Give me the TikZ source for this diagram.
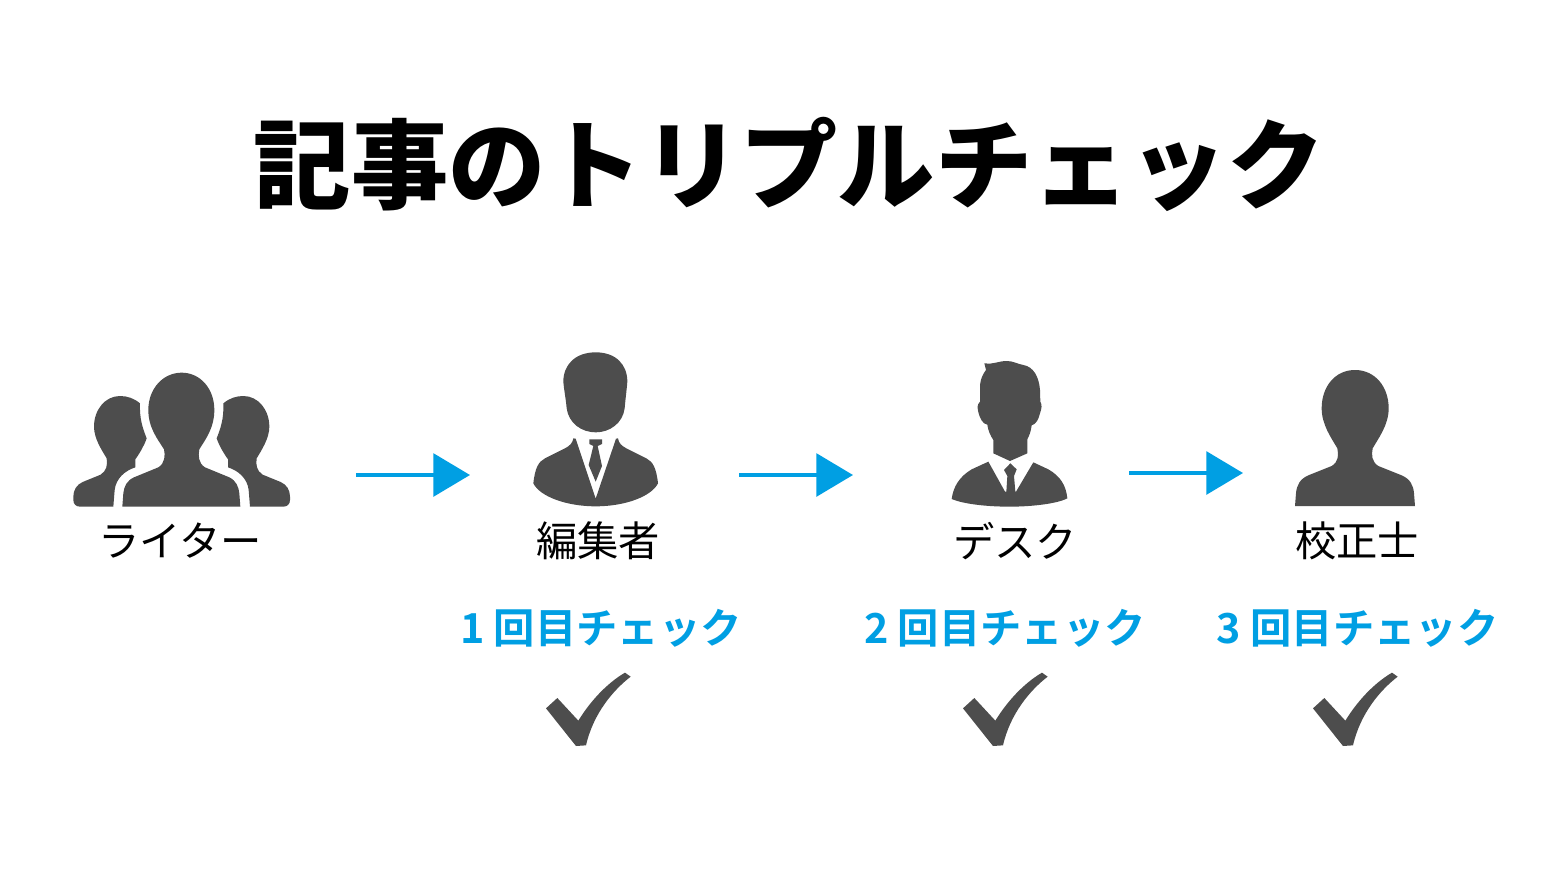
\documentclass[tikz,border=0pt]{standalone}
\usepackage{fontspec}
\usetikzlibrary{arrows.meta}
\newfontfamily\cjk{Noto Sans CJK JP}
\newfontfamily\cjkbold{Noto Sans CJK JP Bold}
\newfontfamily\cjkblack{Noto Sans CJK JP Black}
\definecolor{icongray}{HTML}{4D4D4D}
\definecolor{flowblue}{HTML}{009FE3}
\tikzset{
  zoomed/.style 2 args={shift={(#1,#2)},x=0.25pt,y=-0.25pt},
  icon/.style={fill=icongray,draw=none},
  flow/.style={draw=flowblue,line width=3pt,-{Triangle[length=27.5pt,width=32pt,fill=flowblue]}},
  titletext/.style={font=\cjkblack\fontsize{73pt}{80pt}\selectfont,text=black,inner sep=0pt},
  roletext/.style={font=\cjk\fontsize{31pt}{34pt}\selectfont,text=black,inner sep=0pt},
  checktext/.style={font=\cjkbold\fontsize{31pt}{34pt}\selectfont,text=flowblue,inner sep=0pt},
}
\begin{document}
\begin{tikzpicture}[x=0.75pt,y=-0.75pt]
\useasboundingbox (0,0) rectangle (1563,892);
\fill[white] (0,0) rectangle (1563,892);

\node[titletext] (title) at (789,164.5) {記事のトリプルチェック};

% writer
\begin{scope}[zoomed={60}{350}]
  \fill[icon] (365,68) .. controls (310,68) and (265,115) .. (265,180) .. controls (265,235) and (295,270) .. (312,298) .. controls (316,315) and (315,340) .. (295,352) -- (222,382) .. controls (200,392) and (192,410) .. (190,430) -- (187,470) -- (541,470) -- (538,430) .. controls (536,410) and (528,392) .. (508,382) -- (435,352) .. controls (415,340) and (414,315) .. (418,298) .. controls (435,270) and (463,235) .. (463,180) .. controls (463,115) and (420,68) .. (365,68) -- cycle;
  \foreach \mirror/\off in {1/0,-1/730}{
    \begin{scope}[shift={(\off,0)},xscale=\mirror]
      \fill[icon] (240,160) .. controls (222,145) and (202,138) .. (180,138) .. controls (135,138) and (102,180) .. (102,230) .. controls (102,265) and (125,300) .. (140,325) .. controls (143,345) and (140,362) .. (122,374) -- (68,396) .. controls (50,404) and (40,420) .. (40,440) -- (40,450) .. controls (40,462) and (48,470) .. (60,470) -- (160,470) -- (164,420) .. controls (168,385) and (195,362) .. (226,352) -- (226,328) .. controls (240,308) and (252,288) .. (260,265) .. controls (248,235) and (238,205) .. (240,160) -- cycle;
    \end{scope}
  }
\end{scope}

% editor
\begin{scope}[zoomed={510}{340}]
  \fill[icon] (257,37) .. controls (195,37) and (160,75) .. (160,125) .. controls (162,150) and (168,180) .. (170,205) .. controls (176,250) and (215,277) .. (257,277) .. controls (299,277) and (338,250) .. (344,205) .. controls (346,180) and (350,150) .. (352,125) .. controls (352,75) and (319,37) .. (257,37) -- cycle;
  \fill[icon] (190,295) .. controls (188,310) and (178,318) .. (165,325) -- (105,355) .. controls (85,365) and (75,385) .. (70,430) .. controls (90,470) and (170,499) .. (257,499) .. controls (344,499) and (424,470) .. (444,430) .. controls (439,385) and (429,365) .. (409,355) -- (349,325) .. controls (336,318) and (326,310) .. (324,295) -- (318,296) -- (257,476) -- (197,296) -- cycle;
  \fill[icon] (238,298) -- (276,298) -- (276,312) -- (263,318) -- (276,378) -- (257,425) -- (236,375) -- (250,318) -- (238,312) -- cycle;
\end{scope}

% desk
\begin{scope}[zoomed={930}{350}]
  \fill[icon] (163,40) .. controls (185,45) and (205,33) .. (230,33) .. controls (250,33) and (262,42) .. (280,45) .. controls (310,50) and (327,80) .. (330,120) -- (331,155) .. controls (337,165) and (335,175) .. (330,190) .. controls (325,210) and (318,222) .. (305,226) .. controls (303,245) and (297,258) .. (292,268) -- (292,310) -- (240,333) -- (190,310) -- (190,270) .. controls (180,255) and (174,240) .. (172,224) .. controls (158,222) and (150,205) .. (146,190) .. controls (142,175) and (140,165) .. (150,155) -- (150,105) .. controls (152,85) and (160,70) .. (168,60) -- cycle;
  \fill[icon] (175,335) -- (225,425) -- (229,425) -- (232,378) -- (222,360) -- (241,340) -- (260,358) -- (252,378) -- (256,425) -- (258,425) -- (310,337) -- (355,358) .. controls (390,378) and (408,405) .. (412,445) .. controls (380,462) and (300,470) .. (240,470) .. controls (170,470) and (100,462) .. (65,447) .. controls (70,410) and (88,380) .. (125,358) -- cycle;
\end{scope}

% proofreader
\begin{scope}[zoomed={1280}{360}]
  \fill[icon] (225,30) .. controls (165,30) and (125,80) .. (125,145) .. controls (125,195) and (155,235) .. (172,265) .. controls (176,285) and (176,305) .. (155,318) -- (85,346) .. controls (60,357) and (50,375) .. (48,400) -- (45,438) -- (405,438) -- (402,400) .. controls (400,375) and (390,357) .. (365,346) -- (295,318) .. controls (275,305) and (274,285) .. (278,265) .. controls (295,235) and (326,195) .. (326,145) .. controls (326,80) and (285,30) .. (225,30) -- cycle;
\end{scope}

\node[roletext] (writer) at (180,541) {ライター};
\node[roletext] (editor) at (598,541) {編集者};
\node[roletext] (desk) at (1015,541) {デスク};
\node[roletext] (proof) at (1357,541) {校正士};

\coordinate (a1s) at (356,475); \coordinate (a1e) at (470,475);
\coordinate (a2s) at (739,475); \coordinate (a2e) at (853,475);
\coordinate (a3s) at (1129,473); \coordinate (a3e) at (1243,473);
\draw[flow] (a1s) -- (a1e);
\draw[flow] (a2s) -- (a2e);
\draw[flow] (a3s) -- (a3e);

\node[checktext] (c1) at (601,628) {1 回目チェック};
\node[checktext] (c2) at (1005,628) {2 回目チェック};
\node[checktext] (c3) at (1357.5,628) {3 回目チェック};

\foreach \dx in {0,417,767}{
  \begin{scope}[zoomed={450+\dx}{600}]
    \fill[icon] (288,325) -- (322,294) -- (385,362) .. controls (420,305) and (470,250) .. (525,218) -- (542,230) .. controls (490,270) and (430,340) .. (408,436) -- (378,438) -- cycle;
  \end{scope}
}
\end{tikzpicture}
\end{document}
